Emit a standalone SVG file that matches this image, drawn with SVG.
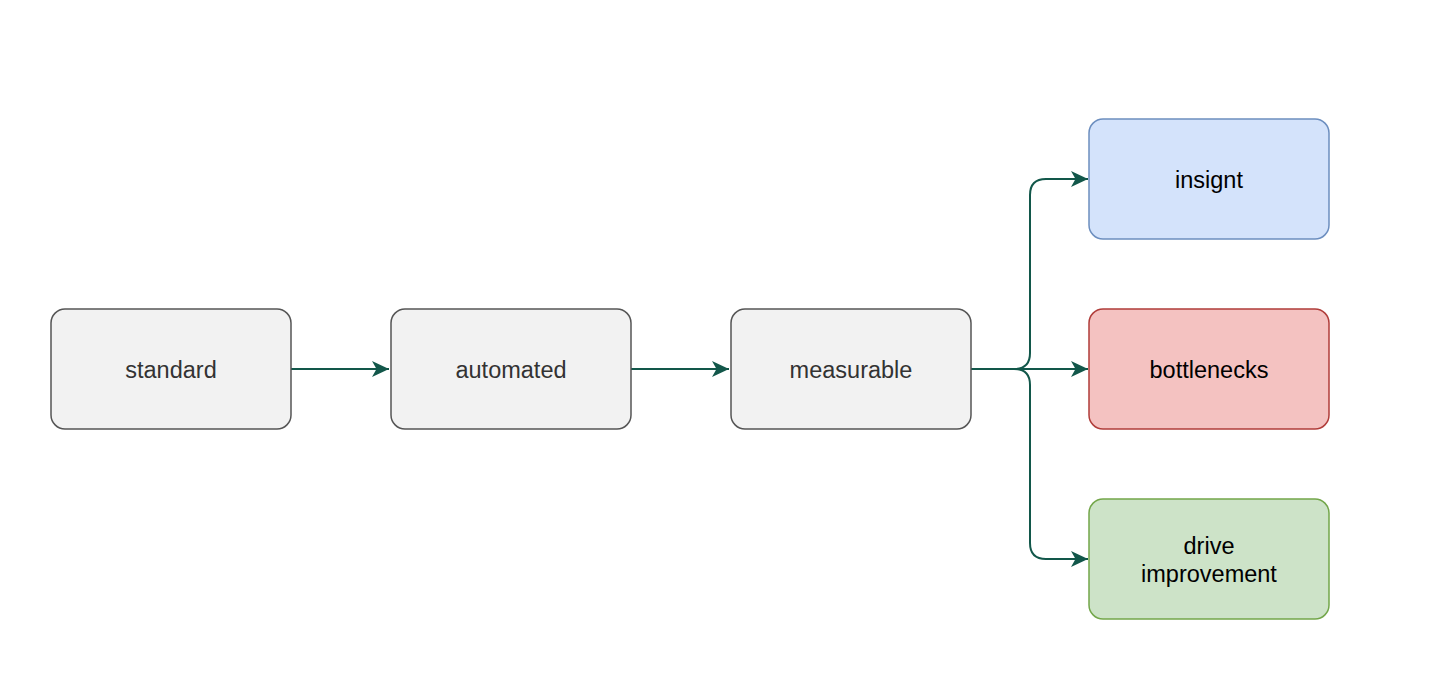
<svg xmlns="http://www.w3.org/2000/svg" width="1442" height="692" viewBox="0 0 1442 692">
<style>
.box{stroke-width:1.5}
.grey{fill:#f2f2f2;stroke:#555555}
.blue{fill:#d4e3fb;stroke:#6c8ebf}
.red{fill:#f4c2c1;stroke:#b03d3a}
.green{fill:#cde3c8;stroke:#73a64a}
.lbl{font-family:"Liberation Sans",Arial,sans-serif;font-size:23.5px;text-anchor:middle}
.dk{fill:#333333}
.bk{fill:#000000}
.conn{fill:none;stroke:#12574a;stroke-width:2}
</style>
<defs>
<marker id="arr" markerUnits="userSpaceOnUse" markerWidth="20" markerHeight="20" viewBox="-18 -10 20 20" refX="0" refY="0" orient="auto">
<path d="M0,0 L-17,-8 L-12.5,0 L-17,8 Z" fill="#12574a"/>
</marker>
</defs>
<rect width="1442" height="692" fill="#ffffff"/>
<g id="connectors">
<path class="conn" d="M291,369 L389,369" marker-end="url(#arr)"/>
<path class="conn" d="M631,369 L729,369" marker-end="url(#arr)"/>
<path class="conn" d="M971,369 L1014,369 Q1030,369 1030,353 L1030,195 Q1030,179 1046,179 L1088,179" marker-end="url(#arr)"/>
<path class="conn" d="M971,369 L1088,369" marker-end="url(#arr)"/>
<path class="conn" d="M971,369 L1014,369 Q1030,369 1030,385 L1030,543 Q1030,559 1046,559 L1088,559" marker-end="url(#arr)"/>
</g>
<g id="standard">
<rect class="box grey" x="51" y="309" width="240" height="120" rx="14"/>
<text class="lbl dk" x="171" y="377.5">standard</text>
</g>
<g id="automated">
<rect class="box grey" x="391" y="309" width="240" height="120" rx="14"/>
<text class="lbl dk" x="511" y="377.5">automated</text>
</g>
<g id="measurable">
<rect class="box grey" x="731" y="309" width="240" height="120" rx="14"/>
<text class="lbl dk" x="851" y="377.5">measurable</text>
</g>
<g id="insignt">
<rect class="box blue" x="1089" y="119" width="240" height="120" rx="14"/>
<text class="lbl bk" x="1209" y="187.5">insignt</text>
</g>
<g id="bottlenecks">
<rect class="box red" x="1089" y="309" width="240" height="120" rx="14"/>
<text class="lbl bk" x="1209" y="377.5">bottlenecks</text>
</g>
<g id="drive-improvement">
<rect class="box green" x="1089" y="499" width="240" height="120" rx="14"/>
<text class="lbl bk" x="1209" y="554">drive</text>
<text class="lbl bk" x="1209" y="582">improvement</text>
</g>
</svg>
